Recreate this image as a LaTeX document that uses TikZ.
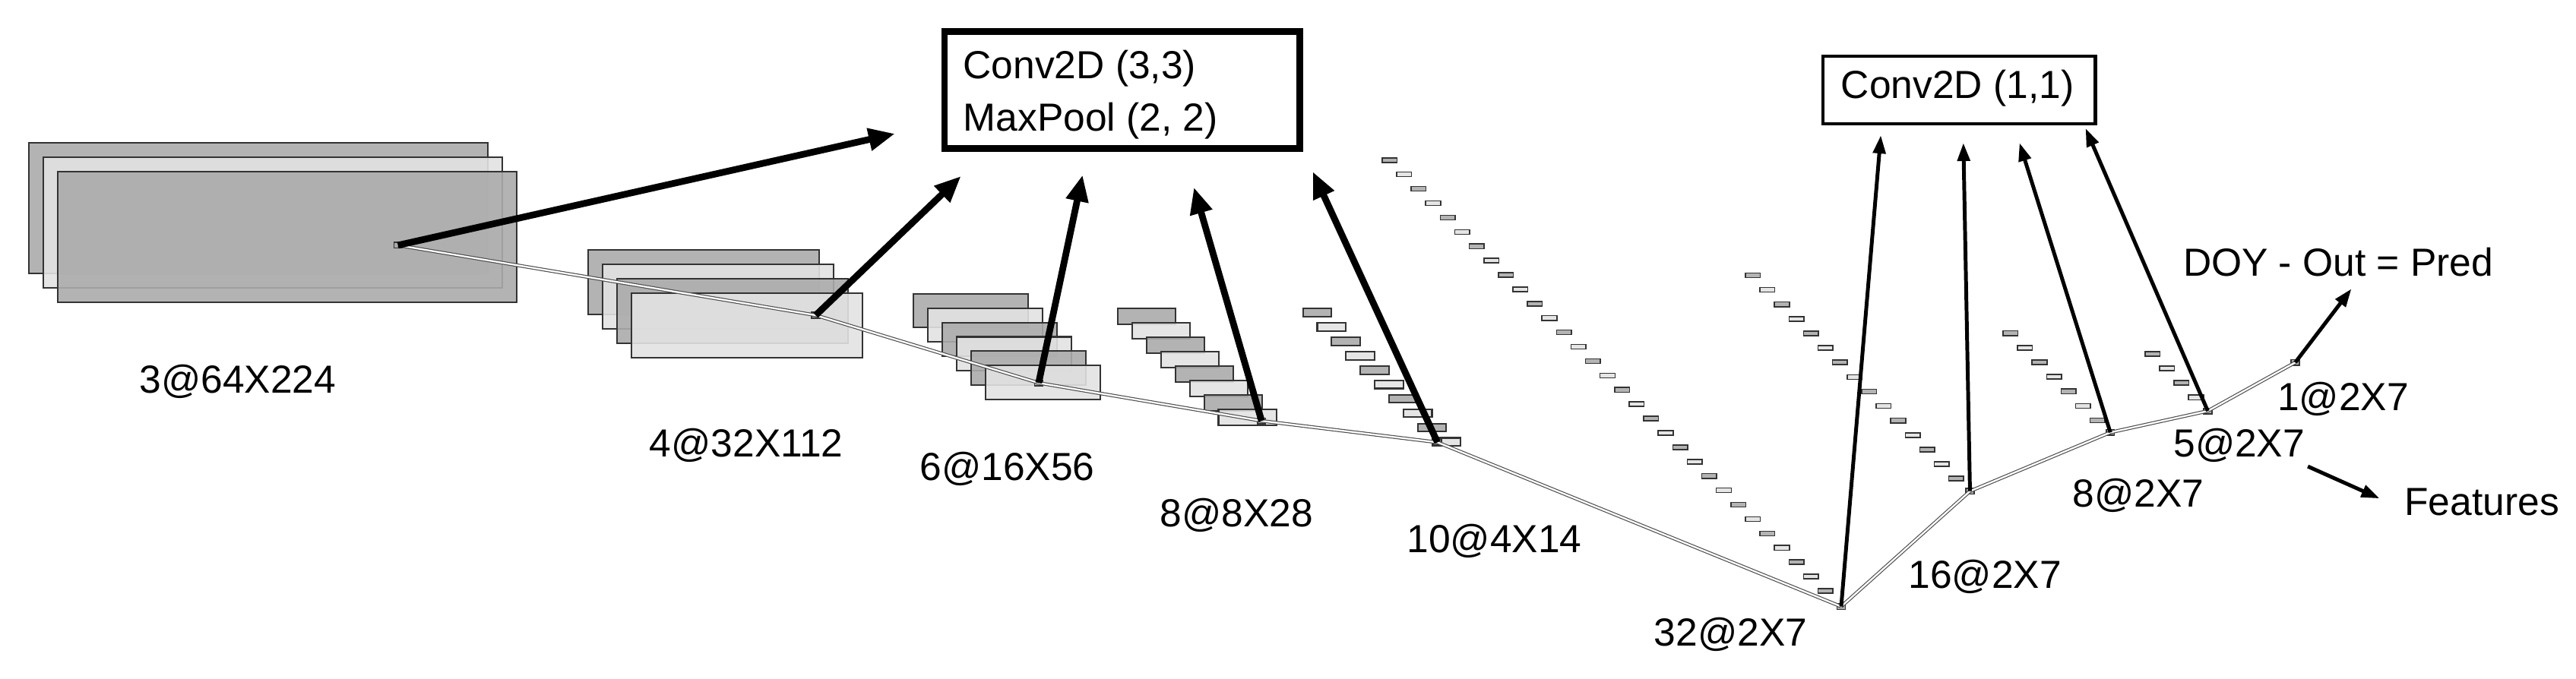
\documentclass[tikz,border=0pt]{standalone}
\usepackage{fontspec}
\setmainfont{Liberation Sans}
\usetikzlibrary{arrows.meta}
\definecolor{dg}{HTML}{ABABAB}
\definecolor{lg}{HTML}{E2E2E2}
\begin{document}
\begin{tikzpicture}[x=0.02cm,y=-0.02cm,
  fm/.style={draw=black!80,line width=0.55pt,fill opacity=0.9},
  sq/.style={draw=black!80,fill=dg,line width=0.4pt,minimum width=0.1cm,minimum height=0.07cm,inner sep=0pt},
  lab/.style={font=\fontsize{13.5}{16}\selectfont,inner sep=0pt},
  thk/.style={line width=2.3pt,-{Triangle[length=0.32cm,width=0.26cm]}},
  med/.style={line width=1.3pt,-{Triangle[length=0.22cm,width=0.15cm]}},
  thn/.style={draw=black!70,line width=0.3pt,double=white,double distance=0.6pt}]
\useasboundingbox (0,0) rectangle (1560,411.4);
% layer stacks
\foreach \i in {0,...,2}{\ifodd\i\def\f{lg}\else\def\f{dg}\fi
  \draw[fm,fill=\f] (17.6+8.7*\i,86.6+8.7*\i) rectangle ++(278,79);}
\foreach \i in {0,...,3}{\ifodd\i\def\f{lg}\else\def\f{dg}\fi
  \draw[fm,fill=\f] (356+8.8*\i,151.6+8.7*\i) rectangle ++(140,39);}
\foreach \i in {0,...,5}{\ifodd\i\def\f{lg}\else\def\f{dg}\fi
  \draw[fm,fill=\f] (553+8.8*\i,178+8.7*\i) rectangle ++(69.5,20.4);}
\foreach \i in {0,...,7}{\ifodd\i\def\f{lg}\else\def\f{dg}\fi
  \draw[fm,fill=\f] (677+8.7*\i,187+8.7*\i) rectangle ++(35,9.7);}
\foreach \i in {0,...,9}{\ifodd\i\def\f{lg}\else\def\f{dg}\fi
  \draw[fm,fill=\f] (789+8.7*\i,187+8.7*\i) rectangle ++(17.3,4.9);}
\foreach \i in {0,...,30}{\ifodd\i\def\f{lg}\else\def\f{dg}\fi
  \draw[fm,line width=0.4pt,fill=\f] (837+8.8*\i,95.6+8.7*\i) rectangle ++(9,2.8);}
\foreach \i in {0,...,14}{\ifodd\i\def\f{lg}\else\def\f{dg}\fi
  \draw[fm,line width=0.4pt,fill=\f] (1057+8.8*\i,165.4+8.8*\i) rectangle ++(9,2.8);}
\foreach \i in {0,...,6}{\ifodd\i\def\f{lg}\else\def\f{dg}\fi
  \draw[fm,line width=0.4pt,fill=\f] (1213+8.8*\i,200.5+8.8*\i) rectangle ++(9,2.8);}
\foreach \i in {0,...,3}{\ifodd\i\def\f{lg}\else\def\f{dg}\fi
  \draw[fm,line width=0.4pt,fill=\f] (1299+8.8*\i,213+8.8*\i) rectangle ++(9,2.8);}
% markers
\node[sq] (s1) at (241,148.6) {};
\node[sq] (s2) at (494,191) {};
\node[sq] (s3) at (629,232) {};
\node[sq] (s4) at (764,255) {};
\node[sq] (s5) at (870.5,268) {};
\node[sq] (s6) at (1115,367.5) {};
\node[sq] (s7) at (1193,297.6) {};
\node[sq] (s8) at (1278,262) {};
\node[sq] (s9) at (1337,249) {};
\node[sq] (s10) at (1390,219.6) {};
% connections
\foreach \a/\b in {s1/s2,s2/s3,s3/s4,s4/s5,s5/s6,s6/s7,s7/s8,s8/s9,s9/s10}
  \draw[thn] (\a.center) -- (\b.center);
% boxes
\node[draw,line width=2.3pt,minimum width=215\pgflinewidth,anchor=north west,inner sep=0pt,
  minimum width=4.3cm,minimum height=1.42cm] (b1) at (570,17) {};
\node[lab,align=left,anchor=north west] (t1) at (583,30) {Conv2D (3,3)\\[2pt]MaxPool (2, 2)};
\node[draw,line width=1.1pt,anchor=north west,minimum width=3.3cm,minimum height=0.82cm,inner sep=0pt] (b2) at (1103,33) {};
\node[lab] (t2) at (1185.5,53.5) {Conv2D (1,1)};
% arrow targets
\coordinate (e1) at (542,81);
\coordinate (e2) at (582,106.7);
\coordinate (e3) at (655.6,106);
\coordinate (e4) at (723,113.5);
\coordinate (e5) at (795,104);
\coordinate (e6) at (1139,82);
\coordinate (e7) at (1189,86.6);
\coordinate (e8) at (1223,86.6);
\coordinate (e9) at (1263,77.8);
\coordinate (e10) at (1424,175);
\coordinate (f0) at (1397.6,282.6);
\coordinate (f1) at (1441,302);
\draw[thk] (s1.center) -- (e1);
\draw[thk] (s2.center) -- (e2);
\draw[thk] (s3.center) -- (e3);
\draw[thk] (s4.center) -- (e4);
\draw[thk] (s5.center) -- (e5);
\draw[med] (s6.center) -- (e6);
\draw[med] (s7.center) -- (e7);
\draw[med] (s8.center) -- (e8);
\draw[med] (s9.center) -- (e9);
\draw[med] (s10.center) -- (e10);
\draw[med] (f0) -- (f1);
% labels
\node[lab] (l1) at (144,231) {3@64X224};
\node[lab] (l2) at (452,270) {4@32X112};
\node[lab] (l3) at (610,284) {6@16X56};
\node[lab] (l4) at (749,312) {8@8X28};
\node[lab] (l5) at (905,327.6) {10@4X14};
\node[lab] (l6) at (1048,384.6) {32@2X7};
\node[lab] (l7) at (1202,349.5) {16@2X7};
\node[lab] (l8) at (1295,300) {8@2X7};
\node[lab] (l9) at (1356,270) {5@2X7};
\node[lab] (l10) at (1419,242) {1@2X7};
\node[lab] (l11) at (1416,158.8) {DOY - Out = Pred};
\node[lab] (l12) at (1503,304) {Features};
\end{tikzpicture}
\end{document}
